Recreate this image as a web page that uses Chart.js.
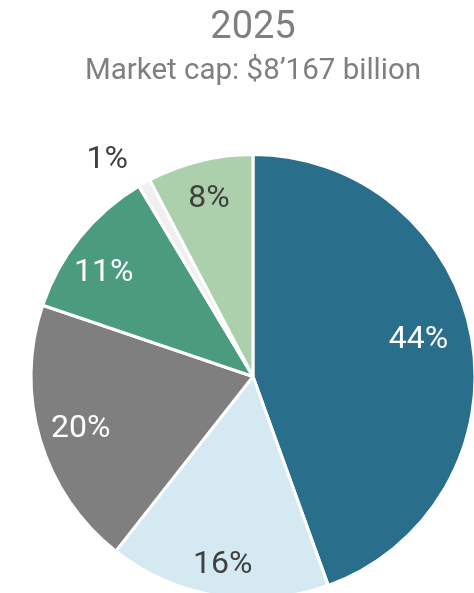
<!DOCTYPE html>
<html>
<head>
<meta charset="utf-8">
<title>2025 market cap</title>
<script src="https://cdn.jsdelivr.net/npm/chart.js@4"></script>
<style>
  html, body { margin: 0; padding: 0; background: #fff; overflow: hidden; }
  .chart-wrap { position: relative; width: 478px; height: 602px; }
</style>
</head>
<body>
<div class="chart-wrap"><canvas id="capChart"></canvas></div>
<script>
/* ---------- data ---------- */
const titleText = '2025';
const subtitleText = 'Market cap: $8\u2019167 billion';
const shares = [44.5, 16.1, 19.6, 11.2, 0.9, 7.7];
const shareLabels = ['44%', '16%', '20%', '11%', '1%', '8%'];
const sliceColors = ['#296e8a', '#d4e9f1', '#7f7f7f', '#4b9b7e', '#efefef', '#abd0ab'];
const labelColors = ['#ffffff', '#404040', '#ffffff', '#ffffff', '#404040', '#404040'];

/* ---------- percent labels drawn on the slices ---------- */
const sliceLabels = {
  id: 'sliceLabels',
  afterDatasetsDraw(chart, args, opts) {
    const { ctx } = chart;
    const arcs = chart.getDatasetMeta(0).data;
    ctx.save();
    ctx.font = opts.font;
    ctx.textAlign = 'center';
    ctx.textBaseline = 'middle';
    arcs.forEach((arc, i) => {
      const { x, y, startAngle, endAngle, outerRadius } = arc.getProps(
        ['x', 'y', 'startAngle', 'endAngle', 'outerRadius'], true);
      const place = opts.place[i] || { r: 0.82, da: 0 };
      const mid = (startAngle + endAngle) / 2 + place.da * Math.PI / 180;
      const r = outerRadius * place.r;
      ctx.fillStyle = labelColors[i];
      ctx.fillText(shareLabels[i], x + Math.cos(mid) * r, y + Math.sin(mid) * r + 1);
    });
    ctx.restore();
  }
};

new Chart(document.getElementById('capChart'), {
  type: 'pie',
  data: {
    labels: shareLabels,
    datasets: [{
      data: shares,
      backgroundColor: sliceColors,
      borderColor: '#ffffff',
      borderWidth: 3,
      hoverOffset: 0
    }]
  },
  options: {
    responsive: true,
    maintainAspectRatio: false,
    animation: false,
    layout: {
      padding: { left: 29.5, right: 1.5, top: 0, bottom: 2 }
    },
    plugins: {
      legend: { display: false },
      tooltip: { enabled: false },
      title: {
        display: true,
        text: titleText,
        color: '#7f7f7f',
        font: { family: 'Roboto', size: 38, weight: 'normal', lineHeight: 1.2 },
        padding: { top: 5.8, bottom: 0 }
      },
      subtitle: {
        display: true,
        text: subtitleText,
        color: '#7f7f7f',
        font: { family: 'Roboto', size: 29.5, weight: 'normal', lineHeight: 1.2 },
        padding: { top: 2.9, bottom: 63.3 }
      },
      sliceLabels: {
        font: '32px Roboto',
        place: [
          { r: 0.765, da: -3 },
          { r: 0.855, da: 0 },
          { r: 0.81, da: 0 },
          { r: 0.82, da: -4 },
          { r: 1.18, da: -4.5 },
          { r: 0.83, da: 0 }
        ]
      }
    }
  },
  plugins: [sliceLabels]
});
</script>
</body>
</html>
